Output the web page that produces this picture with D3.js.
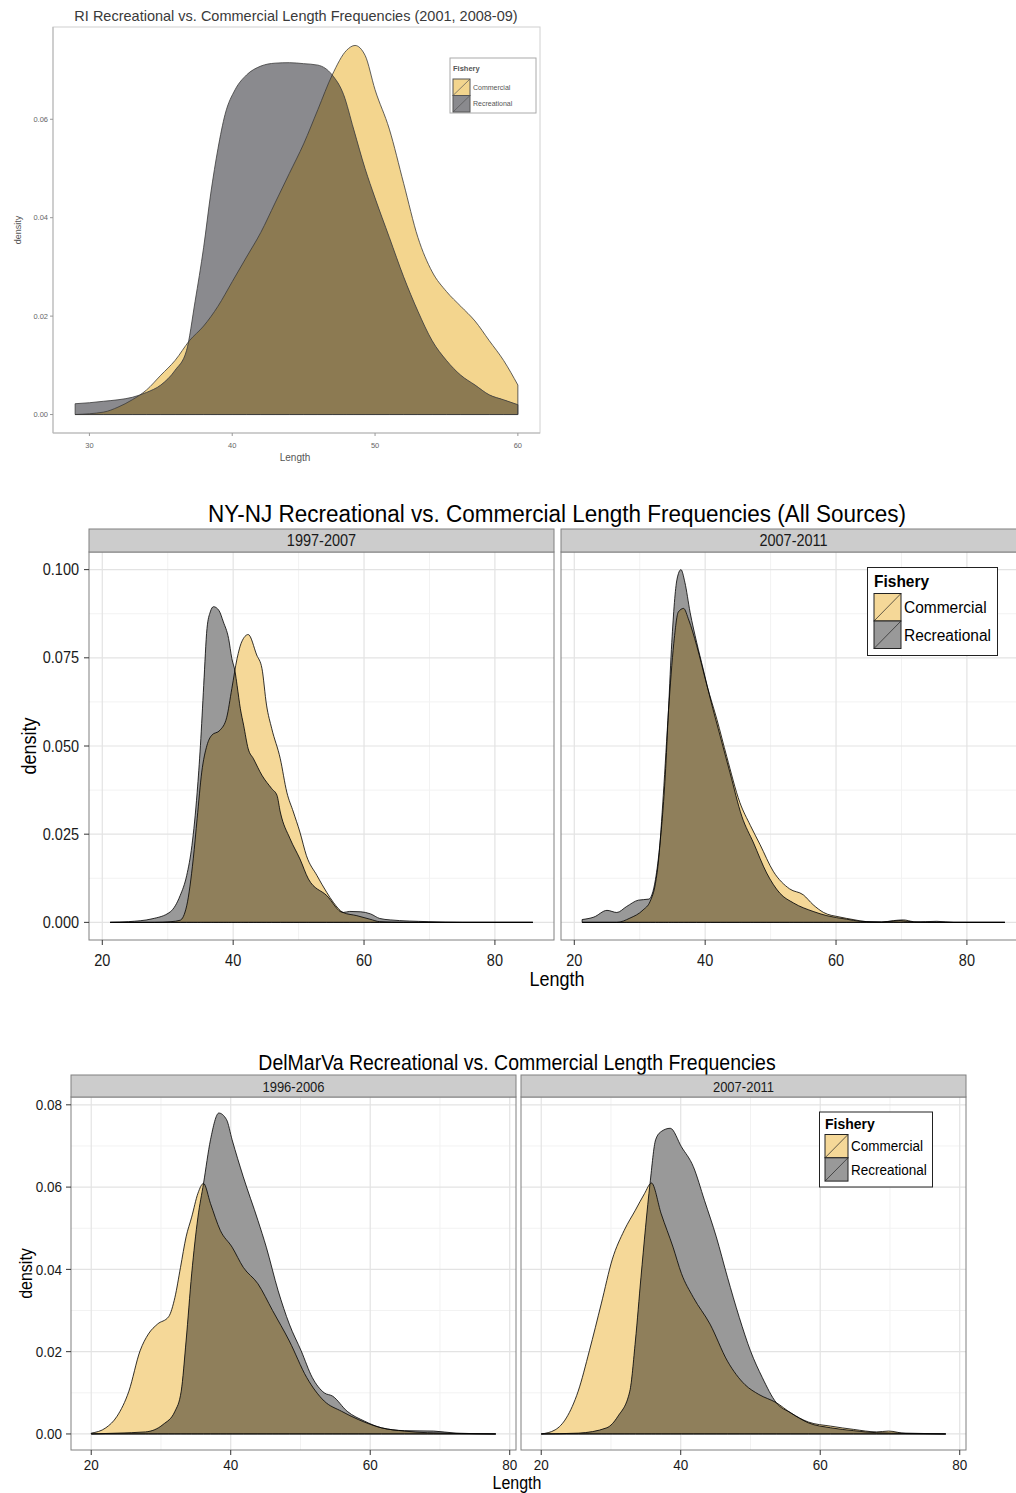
<!DOCTYPE html>
<html>
<head>
<meta charset="utf-8">
<script src="https://cdn.jsdelivr.net/npm/d3@7"></script>
<style>body{margin:0;background:#fff}</style>
</head>
<body>
<script>
// ---- data (length, density) ----
const fisheries = ["Commercial", "Recreational"];

// RI 2001, 2008-09
const riCommercial = [[29,0],[31,0.0005],[32,0.0015],[33,0.003],[34,0.005],[35,0.008],[36,0.011],[37,0.015],[38,0.018],[39,0.022],[40,0.027],[41,0.032],[42,0.037],[43,0.043],[44,0.049],[45,0.055],[46,0.062],[47,0.069],[48,0.074],[48.6,0.075],[49.3,0.073],[50,0.066],[51,0.058],[52,0.047],[53,0.036],[54,0.029],[55,0.025],[56,0.022],[57,0.019],[58,0.015],[59,0.011],[60,0.006]];
const riRecreational = [[29,0.0022],[30,0.0024],[31,0.0027],[32,0.003],[33,0.0035],[34,0.0045],[35,0.006],[36,0.009],[36.8,0.013],[37.4,0.023],[38,0.034],[38.5,0.045],[39,0.054],[39.5,0.061],[40.2,0.066],[41,0.069],[42,0.0708],[43,0.0714],[44,0.0715],[45,0.0713],[46,0.071],[47,0.069],[47.8,0.065],[48.5,0.058],[49.3,0.05],[50,0.044],[51,0.036],[52,0.028],[53,0.021],[54,0.015],[55,0.011],[56,0.008],[57,0.006],[58,0.004],[59,0.003],[60,0.002]];
const riXTicks = [30, 40, 50, 60];
const riYTicks = [0, 0.02, 0.04, 0.06];

// NY-NJ
const nyPeriods = ["1997-2007", "2007-2011"];
const nyEarlyCommercial = [[21.2,0],[28,0],[30.5,0.0002],[31.9,0.0006],[32.9,0.0047],[33.9,0.018],[34.5,0.0295],[35.2,0.0426],[36,0.0502],[36.7,0.053],[38,0.0545],[39,0.058],[39.8,0.0663],[40.6,0.0748],[41.3,0.0795],[42.3,0.0816],[43.6,0.0758],[44.4,0.072],[45.1,0.0616],[45.9,0.0549],[47.2,0.0464],[48.2,0.0369],[49.2,0.0313],[50.2,0.0256],[51.2,0.0189],[52.8,0.0133],[54.3,0.0085],[55.3,0.0057],[56.8,0.0028],[58.9,0.0019],[60.9,0.0009],[62.4,0.0002],[66,0],[85.8,0]];
const nyEarlyRecreational = [[21.2,0],[24,0.0002],[27.6,0.001],[30.4,0.003],[31.9,0.0076],[32.9,0.0133],[33.7,0.0218],[34.5,0.0369],[35,0.0502],[35.5,0.0672],[36,0.0833],[36.5,0.088],[37,0.0895],[37.8,0.0885],[38.5,0.0852],[39.3,0.0805],[39.8,0.0748],[40.3,0.071],[40.6,0.0672],[41.1,0.0606],[41.6,0.0559],[42.3,0.0492],[43.1,0.0464],[44.4,0.0417],[45.9,0.0379],[46.7,0.036],[47.2,0.0313],[48.7,0.0237],[50.2,0.018],[51.5,0.0123],[54.3,0.0076],[56.8,0.0028],[57.8,0.0031],[59.5,0.003],[61,0.0024],[62.4,0.0011],[64,0.0007],[69.8,0.0002],[75,0],[85.8,0]];
const nyLateCommercial = [[21.2,0],[26.5,0],[28.5,0.0012],[30.5,0.0035],[31.6,0.006],[32.4,0.011],[32.9,0.018],[33.6,0.036],[34.4,0.06],[35.2,0.079],[35.9,0.088],[36.7,0.089],[37.5,0.0857],[38.7,0.0785],[40.3,0.067],[41.8,0.0575],[43.3,0.047],[45.3,0.034],[46.9,0.0275],[48.4,0.022],[50.4,0.0145],[52.9,0.0095],[55,0.0078],[56.5,0.005],[58.1,0.0028],[60.6,0.0015],[62.6,0.0008],[64.7,0.0002],[67,0.0001],[68.8,0.0005],[70.3,0.0007],[71.8,0.0002],[74,0],[85.8,0]];
const nyLateRecreational = [[21.2,0.0008],[23,0.0015],[25,0.0034],[26.5,0.0028],[28,0.0045],[29.8,0.0063],[31.4,0.0066],[32.4,0.0121],[33.1,0.0225],[33.9,0.0415],[34.4,0.0604],[34.9,0.0794],[35.7,0.0973],[36.3,0.1],[36.9,0.0964],[37.7,0.0879],[38.7,0.0794],[39.7,0.0718],[40.8,0.0633],[42.3,0.0528],[43.8,0.0424],[45.6,0.0301],[47.4,0.0225],[49.4,0.014],[51.4,0.0083],[53.5,0.0055],[56.5,0.0031],[58.6,0.0019],[61.6,0.0009],[63.7,0.0003],[67,0.0001],[69.8,0.0005],[72,0.0001],[75.4,0.0003],[78,0],[85.8,0]];
const nyXTicks = [20, 40, 60, 80];
const nyYTicks = [0, 0.025, 0.05, 0.075, 0.1];

// DelMarVa
const dmvPeriods = ["1996-2006", "2007-2011"];
const dmvEarlyCommercial = [[20,0.0002],[22.1,0.0015],[23.7,0.0043],[25.4,0.0104],[27,0.0202],[28.2,0.0243],[29.5,0.0267],[31.1,0.0285],[32,0.0332],[32.8,0.0405],[33.6,0.0479],[34.4,0.0527],[35.3,0.0585],[36.1,0.0609],[37.1,0.056],[38.5,0.0495],[40.2,0.0454],[41.8,0.0405],[43.9,0.0365],[46,0.03],[48.4,0.0226],[50.9,0.0137],[53.4,0.008],[55.9,0.0055],[58.3,0.0035],[61.6,0.0015],[64.9,0.0007],[68.2,0.0003],[78,0]];
const dmvEarlyRecreational = [[20,0],[23.7,0.0002],[27.8,0.0005],[30.3,0.0023],[32,0.0055],[32.9,0.0104],[33.6,0.0226],[34.4,0.0389],[35.3,0.0527],[36.1,0.0609],[37.1,0.0715],[38.3,0.078],[39.4,0.0764],[40.2,0.0715],[41.8,0.0625],[43.9,0.0519],[45.1,0.0454],[46.8,0.0348],[48.4,0.0267],[50.1,0.0202],[51.7,0.0137],[53.4,0.01],[54.6,0.0092],[56.7,0.0055],[59.2,0.0031],[61.6,0.0015],[64.9,0.0008],[69.1,0.0007],[72.3,0.0002],[78,0]];
const dmvLateCommercial = [[20,0],[22,0.001],[23.6,0.0039],[25.3,0.0104],[26.9,0.0202],[28.6,0.0316],[30.2,0.0425],[31.9,0.0495],[33.5,0.0544],[34.8,0.0584],[35.8,0.061],[37.2,0.0535],[38.9,0.0454],[40.1,0.039],[41.8,0.0332],[44.2,0.0267],[46.7,0.0177],[49.2,0.012],[51.2,0.0096],[53.7,0.0076],[55.8,0.0051],[58.3,0.0029],[61.5,0.0019],[64.8,0.0011],[68.1,0.0005],[69.8,0.0007],[72.3,0.0001],[78,0]];
const dmvLateRecreational = [[20,0],[25.3,0.0002],[29.4,0.0015],[31,0.0043],[32.7,0.0104],[33.5,0.0226],[34.3,0.0381],[35.6,0.0609],[36.4,0.0715],[37.2,0.0735],[38.5,0.0743],[40.1,0.0698],[41.8,0.065],[43.4,0.0568],[45.1,0.0479],[46.7,0.0381],[48.4,0.0283],[50,0.0202],[51.7,0.0137],[53.7,0.0076],[55.8,0.0051],[58.3,0.0027],[61.5,0.0015],[64.8,0.0008],[68.1,0.0003],[72.3,0.0002],[78,0]];
const dmvXTicks = [20, 40, 60, 80];
const dmvYTicks = [0, 0.02, 0.04, 0.06, 0.08];

// ---- drawing ----
const font = "'Liberation Sans', Arial, sans-serif";
const ggStyle = {com: "#f5d898", rec: "#999999", both: "#8f7f5b", line: "#000", lw: 0.8};
const riStyle = {com: "#f3d58e", rec: "#8a8a8e", both: "#8c7a52", line: "#3a3a3a", lw: 0.8};

const svg = d3.select("body").append("svg").attr("width", 1016).attr("height", 1493);
const defs = svg.append("defs");
let clipN = 0;

function padded(ext) {
  const p = (ext[1] - ext[0]) * 0.05;
  return [ext[0] - p, ext[1] + p];
}

// text; ggplot figures in the reference look slightly stretched vertically
function txt(g, x, y, s, size, opts) {
  opts = opts || {};
  const sy = opts.sy || 1;
  return g.append("text")
    .attr("transform", "translate(" + x + "," + y + ")" + (opts.rotate ? " rotate(" + opts.rotate + ")" : "") + " scale(1," + sy + ")")
    .attr("text-anchor", opts.anchor || "start")
    .attr("fill", opts.color || "#1a1a1a")
    .style("font-family", font).style("font-size", size + "px")
    .style("font-weight", opts.bold ? "bold" : "normal")
    .text(s);
}

function drawDensities(g, x, y, com, rec, st) {
  const area = d3.area().x(d => x(d[0])).y0(y(0)).y1(d => y(d[1])).curve(d3.curveMonotoneX);
  const id = "clip" + (clipN++);
  defs.append("clipPath").attr("id", id).append("path").attr("d", area(com));
  g.append("path").attr("d", area(com)).attr("fill", st.com);
  g.append("path").attr("d", area(rec)).attr("fill", st.rec);
  g.append("path").attr("d", area(rec)).attr("fill", st.both).attr("clip-path", "url(#" + id + ")");
  [com, rec].forEach(s => g.append("path").attr("d", area(s))
    .attr("fill", "none").attr("stroke", st.line).attr("stroke-width", st.lw)
    .attr("stroke-linejoin", "round"));
}

function drawLegend(o) {
  const g = svg.append("g");
  g.append("rect").attr("x", o.x).attr("y", o.y).attr("width", o.w).attr("height", o.h)
    .attr("fill", "#fff").attr("stroke", o.border).attr("stroke-width", 1);
  txt(g, o.keyX, o.titleBase, "Fishery", o.titleSize, {bold: true, color: o.color, sy: o.sy});
  fisheries.forEach((f, i) => {
    const ky = o.keyY + i * o.keyH;
    g.append("rect").attr("x", o.keyX).attr("y", ky).attr("width", o.keyW).attr("height", o.keyH)
      .attr("fill", i ? o.st.rec : o.st.com).attr("stroke", o.keyStroke).attr("stroke-width", 1);
    g.append("line").attr("x1", o.keyX).attr("y1", ky + o.keyH).attr("x2", o.keyX + o.keyW).attr("y2", ky)
      .attr("stroke", o.keyStroke).attr("stroke-width", 0.7);
    txt(g, o.keyX + o.keyW + 3, ky + o.keyH / 2 + o.size * 0.38, f, o.size, {color: o.color, sy: o.sy});
  });
}

function minorOf(ticks, dom) {
  const step = ticks[1] - ticks[0];
  return d3.range(ticks[0] - step / 2, ticks[ticks.length - 1] + step, step)
    .filter(v => v > dom[0] && v < dom[1]);
}

function facetChart(o) {
  const all = o.panels.flatMap(p => p.com.concat(p.rec));
  const xDom = padded(d3.extent(all, d => d[0]));
  const yDom = padded([0, d3.max(all, d => d[1])]);
  const y = d3.scaleLinear().domain(yDom).range([o.bottom, o.top]);
  const yFmt = d3.format(o.yFmt);
  const sy = 1.1;

  txt(svg, o.titleX, o.titleBase, o.title, o.titleSize, {anchor: "middle", color: "#000", sy: sy});

  o.panels.forEach((p, i) => {
    const x = d3.scaleLinear().domain(xDom).range([p.x0, p.x1]);
    const g = svg.append("g");
    const w = p.x1 - p.x0;
    const pid = "panel" + (clipN++);
    defs.append("clipPath").attr("id", pid).append("rect")
      .attr("x", p.x0).attr("y", o.top).attr("width", w).attr("height", o.bottom - o.top);
    const inner = g.append("g").attr("clip-path", "url(#" + pid + ")");

    // grid
    minorOf(o.xTicks, xDom).forEach(v => inner.append("line").attr("x1", x(v)).attr("x2", x(v))
      .attr("y1", o.top).attr("y2", o.bottom).attr("stroke", "#f2f2f2").attr("stroke-width", 1));
    minorOf(o.yTicks, yDom).forEach(v => inner.append("line").attr("y1", y(v)).attr("y2", y(v))
      .attr("x1", p.x0).attr("x2", p.x1).attr("stroke", "#f2f2f2").attr("stroke-width", 1));
    o.xTicks.forEach(v => inner.append("line").attr("x1", x(v)).attr("x2", x(v))
      .attr("y1", o.top).attr("y2", o.bottom).attr("stroke", "#e3e3e3").attr("stroke-width", 1.2));
    o.yTicks.forEach(v => inner.append("line").attr("y1", y(v)).attr("y2", y(v))
      .attr("x1", p.x0).attr("x2", p.x1).attr("stroke", "#e3e3e3").attr("stroke-width", 1.2));

    drawDensities(inner, x, y, p.com, p.rec, ggStyle);

    g.append("rect").attr("x", p.x0).attr("y", o.top).attr("width", w).attr("height", o.bottom - o.top)
      .attr("fill", "none").attr("stroke", "#808080").attr("stroke-width", 1);

    // strip
    g.append("rect").attr("x", p.x0).attr("y", o.stripTop).attr("width", w).attr("height", o.top - o.stripTop)
      .attr("fill", "#cccccc").attr("stroke", "#808080").attr("stroke-width", 1);
    txt(g, (p.x0 + p.x1) / 2, o.stripBase, p.label, o.stripSize, {anchor: "middle", sy: sy});

    // x axis
    o.xTicks.forEach(v => {
      g.append("line").attr("x1", x(v)).attr("x2", x(v)).attr("y1", o.bottom).attr("y2", o.bottom + 5)
        .attr("stroke", "#333").attr("stroke-width", 1);
      txt(g, x(v), o.xLabBase, v, o.tickSize, {anchor: "middle", sy: sy});
    });

    if (i === 0) {
      o.yTicks.forEach(v => {
        g.append("line").attr("x1", p.x0 - 5).attr("x2", p.x0).attr("y1", y(v)).attr("y2", y(v))
          .attr("stroke", "#333").attr("stroke-width", 1);
        txt(g, p.x0 - o.yLabGap, y(v) + o.tickSize * 0.38, yFmt(v), o.tickSize, {anchor: "end", sy: sy});
      });
    }
  });

  txt(svg, o.lengthX, o.lengthBase, "Length", o.axisSize, {anchor: "middle", color: "#000", sy: sy});
  txt(svg, o.densityX, (o.top + o.bottom) / 2, "density", o.axisSize,
    {anchor: "middle", color: "#000", rotate: -90, sy: sy});

  drawLegend(Object.assign({st: ggStyle, border: "#222", keyStroke: "#222", color: "#000", sy: sy}, o.legend));
}

// ---- RI figure ----
(function() {
  const L = {x0: 53, x1: 540, top: 27, bottom: 433};
  const all = riCommercial.concat(riRecreational);
  const x = d3.scaleLinear().domain(padded(d3.extent(all, d => d[0]))).range([L.x0, L.x1]);
  const y = d3.scaleLinear().domain(padded([0, d3.max(all, d => d[1])])).range([L.bottom, L.top]);
  const g = svg.append("g");

  txt(g, 296, 21, "RI Recreational vs. Commercial Length Frequencies (2001, 2008-09)", 14.5,
    {anchor: "middle", color: "#3a3a3a"});
  g.append("rect").attr("x", L.x0).attr("y", L.top).attr("width", L.x1 - L.x0).attr("height", L.bottom - L.top)
    .attr("fill", "#fff").attr("stroke", "#d0d0d0").attr("stroke-width", 1);
  drawDensities(g, x, y, riCommercial, riRecreational, riStyle);
  g.append("line").attr("x1", L.x0).attr("x2", L.x0).attr("y1", L.top).attr("y2", L.bottom).attr("stroke", "#b5b5b5");
  g.append("line").attr("x1", L.x0).attr("x2", L.x1).attr("y1", L.bottom).attr("y2", L.bottom).attr("stroke", "#b5b5b5");

  riYTicks.forEach(v => {
    g.append("line").attr("x1", L.x0 - 3).attr("x2", L.x0).attr("y1", y(v)).attr("y2", y(v)).attr("stroke", "#999");
    txt(g, L.x0 - 5, y(v) + 2.5, d3.format(".2f")(v), 7.5, {anchor: "end", color: "#666"});
  });
  riXTicks.forEach(v => {
    g.append("line").attr("x1", x(v)).attr("x2", x(v)).attr("y1", L.bottom).attr("y2", L.bottom + 3).attr("stroke", "#999");
    txt(g, x(v), 448, v, 7.5, {anchor: "middle", color: "#666"});
  });
  txt(g, 295, 461, "Length", 10, {anchor: "middle", color: "#555"});
  txt(g, 21, 230, "density", 9, {anchor: "middle", color: "#555", rotate: -90});

  drawLegend({x: 450, y: 58, w: 86, h: 55, keyX: 453, keyY: 79, keyW: 17, keyH: 16.5,
    titleBase: 71, titleSize: 7.5, size: 7, st: riStyle, border: "#aaa", keyStroke: "#555", color: "#555"});
})();

// ---- NY-NJ figure ----
facetChart({
  title: "NY-NJ Recreational vs. Commercial Length Frequencies (All Sources)",
  titleX: 557, titleBase: 522, titleSize: 22.5,
  stripTop: 529, top: 552, bottom: 940, stripBase: 546, stripSize: 14.5,
  panels: [
    {label: nyPeriods[0], x0: 89, x1: 554, com: nyEarlyCommercial, rec: nyEarlyRecreational},
    {label: nyPeriods[1], x0: 561, x1: 1026, com: nyLateCommercial, rec: nyLateRecreational}
  ],
  xTicks: nyXTicks, yTicks: nyYTicks, yFmt: ".3f", yLabGap: 10,
  tickSize: 14.5, xLabBase: 966, axisSize: 18, lengthX: 557, lengthBase: 986, densityX: 36,
  legend: {x: 867.5, y: 567.5, w: 130, h: 88, keyX: 874, keyY: 593.5, keyW: 27, keyH: 27.5,
    titleBase: 587, titleSize: 15.5, size: 15.5}
});

// ---- DelMarVa figure ----
facetChart({
  title: "DelMarVa Recreational vs. Commercial Length Frequencies",
  titleX: 517, titleBase: 1070, titleSize: 19.5,
  stripTop: 1075, top: 1097, bottom: 1450, stripBase: 1092, stripSize: 13,
  panels: [
    {label: dmvPeriods[0], x0: 71, x1: 516, com: dmvEarlyCommercial, rec: dmvEarlyRecreational},
    {label: dmvPeriods[1], x0: 521, x1: 966, com: dmvLateCommercial, rec: dmvLateRecreational}
  ],
  xTicks: dmvXTicks, yTicks: dmvYTicks, yFmt: ".2f", yLabGap: 9,
  tickSize: 13.5, xLabBase: 1470, axisSize: 16, lengthX: 517, lengthBase: 1489, densityX: 32,
  legend: {x: 819.5, y: 1112, w: 113, h: 75, keyX: 825, keyY: 1134.5, keyW: 23, keyH: 23.3,
    titleBase: 1129, titleSize: 14, size: 13.5}
});
</script>
</body>
</html>
